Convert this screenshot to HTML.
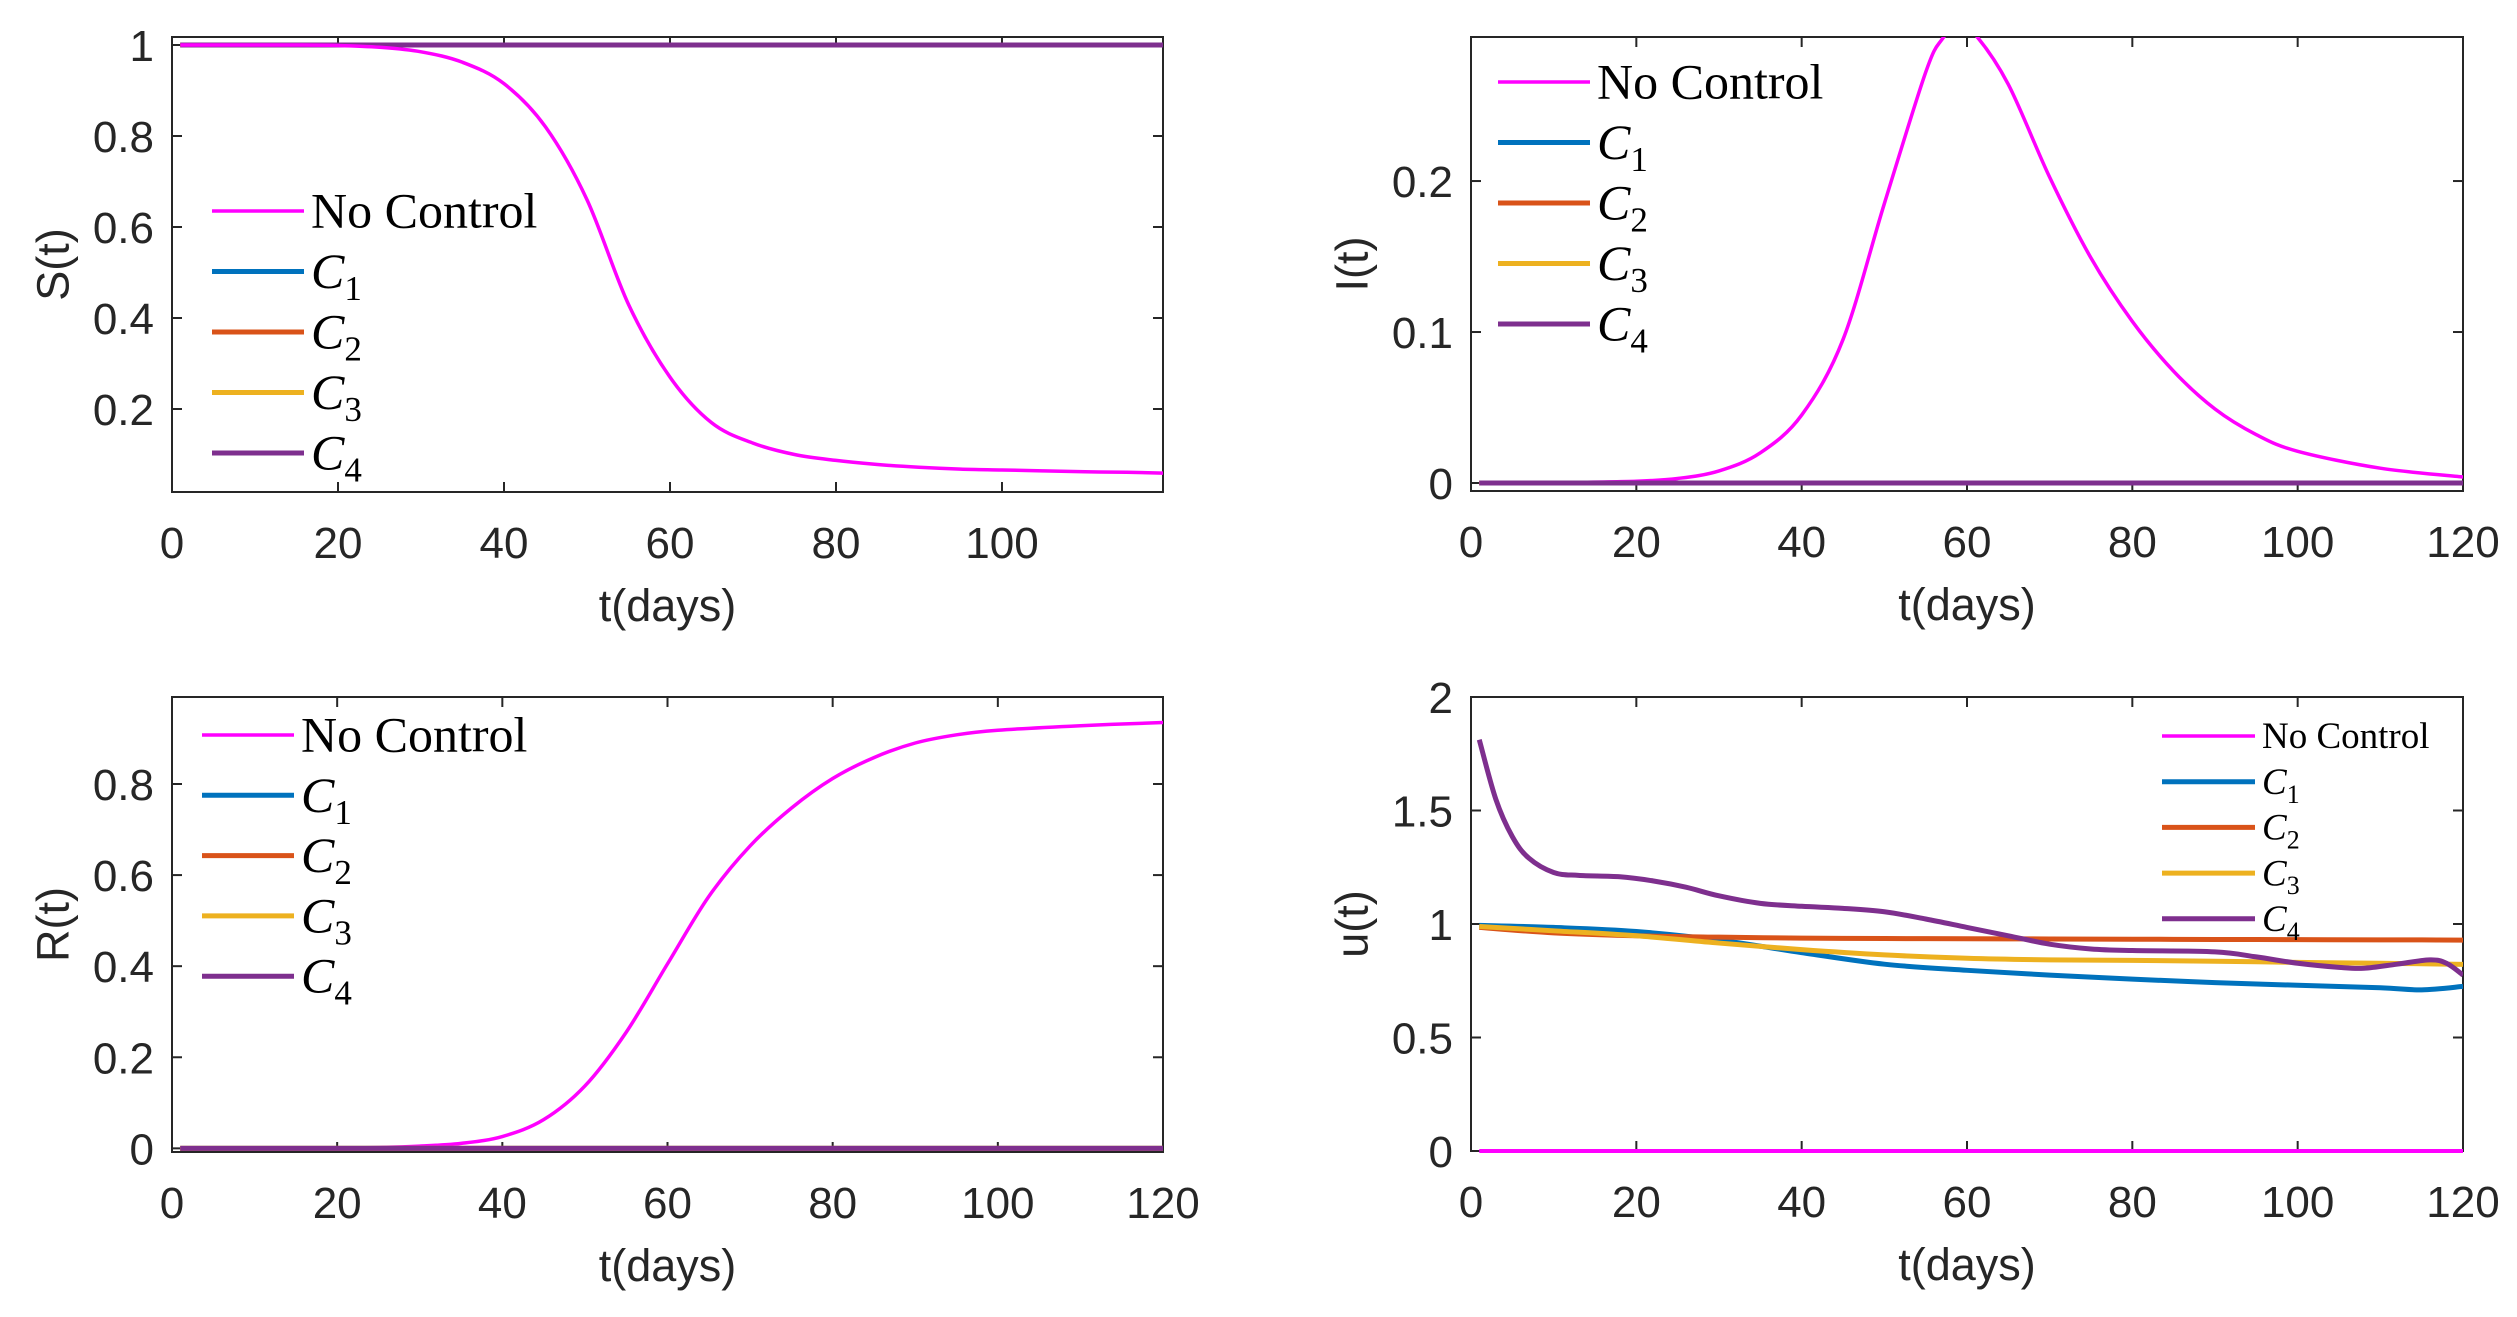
<!DOCTYPE html>
<html><head><meta charset="utf-8"><style>
html,body{margin:0;padding:0;background:#fff;}
svg{display:block;}
</style></head><body>
<svg id="fig" width="2517" height="1317" viewBox="0 0 2517 1317" xmlns="http://www.w3.org/2000/svg"></svg>
<script>
// ---- data ----
const tS = [1,5,10,15,20,25,30,35,40,45,50,55,60,65,70,75,80,85,90,95,100,105,110,115,119.4];
const sNoControl = [1,1,1,1,0.999,0.995,0.985,0.962,0.915,0.82,0.66,0.43,0.27,0.17,0.125,0.1,0.087,0.078,0.072,0.068,0.066,0.064,0.062,0.061,0.059];
const tI = [1,10,20,25,30,35,40,45,50,55,57,59,61,65,70,75,80,85,90,95,100,110,120];
const iNoControl = [0,0.0003,0.0012,0.003,0.008,0.02,0.045,0.095,0.185,0.272,0.294,0.303,0.297,0.264,0.2025,0.149,0.107,0.074,0.049,0.032,0.021,0.0098,0.004];
const tR = [1,10,20,25,30,35,40,45,50,55,60,65,70,75,80,85,90,95,100,110,120];
const rNoControl = [0,0,0.001,0.002,0.005,0.011,0.026,0.063,0.137,0.255,0.405,0.553,0.664,0.747,0.812,0.858,0.89,0.908,0.918,0.928,0.935];
const tU4 = [1,3,5,7,10,13,18,22,26,30,35,40,45,50,55,60,65,70,75,80,90,95,100,105,108,112,116,118,120];
const uC4 = [1.812,1.55,1.385,1.29,1.227,1.214,1.208,1.19,1.162,1.124,1.091,1.078,1.069,1.054,1.022,0.985,0.948,0.911,0.89,0.883,0.877,0.855,0.827,0.809,0.805,0.823,0.842,0.827,0.775];
const tU = [1,10,20,30,40,50,60,70,80,90,100,110,115,120];
const uC1 = [0.994,0.985,0.967,0.929,0.874,0.823,0.796,0.775,0.757,0.742,0.730,0.719,0.71,0.725];
const uC2 = [0.985,0.961,0.948,0.942,0.938,0.936,0.935,0.934,0.933,0.932,0.931,0.930,0.930,0.929];
const uC3 = [0.989,0.97,0.948,0.916,0.887,0.864,0.849,0.842,0.840,0.836,0.831,0.827,0.825,0.822];
const tFlat = [1,120];
const flatOne = [1,1];
const flatZero = [0,0];
const legendLabels = ["No Control","C1","C2","C3","C4"];
const colors = {nc:"#FF00FF",c1:"#0072BD",c2:"#D95319",c3:"#EDB120",c4:"#7E2F8E"};

const NS="http://www.w3.org/2000/svg";
const svg=document.getElementById('fig');
function mk(tag,attrs,parent){const e=document.createElementNS(NS,tag);for(const k in attrs)e.setAttribute(k,attrs[k]);(parent||svg).appendChild(e);return e;}

function smoothPath(xs,ys){
  let d="M"+xs[0].toFixed(2)+","+ys[0].toFixed(2);
  for(let i=0;i<xs.length-1;i++){
    const x0=xs[Math.max(i-1,0)],y0=ys[Math.max(i-1,0)];
    const x1=xs[i],y1=ys[i],x2=xs[i+1],y2=ys[i+1];
    const x3=xs[Math.min(i+2,xs.length-1)],y3=ys[Math.min(i+2,xs.length-1)];
    const c1x=x1+(x2-x0)/6,c1y=y1+(y2-y0)/6,c2x=x2-(x3-x1)/6,c2y=y2-(y3-y1)/6;
    d+=" C"+c1x.toFixed(2)+","+c1y.toFixed(2)+" "+c2x.toFixed(2)+","+c2y.toFixed(2)+" "+x2.toFixed(2)+","+y2.toFixed(2);
  }
  return d;
}

function panel(cfg){
  const g=mk('g',{});
  
  
  const {L,R,T,B,xmin,xmax,ymin,ymax}=cfg;
  const sx=v=>L+(v-xmin)/(xmax-xmin)*(R-L);
  const sy=v=>B-(v-ymin)/(ymax-ymin)*(B-T);
  const clipId='clip-'+cfg.name;
  const cp=mk('clipPath',{id:clipId},g);mk('rect',{x:L,y:T,width:R-L,height:B-T+2},cp);
  // box
  const box=mk('rect',{x:L,y:T,width:R-L,height:B-T,fill:'none',stroke:'#262626','stroke-width':2},g);
  
  
  // ticks
  const tk=10;
  cfg.xticks.forEach(v=>{
    const x=sx(v);
    mk('line',{x1:x,y1:B,x2:x,y2:B-tk,stroke:'#262626','stroke-width':2},g);
    mk('line',{x1:x,y1:T,x2:x,y2:T+tk,stroke:'#262626','stroke-width':2},g);
    const t=mk('text',{x:x,y:B+66,'text-anchor':'middle','font-family':'Liberation Sans, sans-serif','font-size':44,fill:'#262626'},g);
    t.textContent=String(v);
    
    
  });
  cfg.yticks.forEach(v=>{
    const y=sy(v);
    mk('line',{x1:L,y1:y,x2:L+tk,y2:y,stroke:'#262626','stroke-width':2},g);
    mk('line',{x1:R,y1:y,x2:R-tk,y2:y,stroke:'#262626','stroke-width':2},g);
    const t=mk('text',{x:L-18,y:y+16,'text-anchor':'end','font-family':'Liberation Sans, sans-serif','font-size':44,fill:'#262626'},g);
    t.textContent=String(v);
    
    
  });
  // series
  const sg=mk('g',{'clip-path':'url(#'+clipId+')'},g);
  cfg.series.forEach(s=>{
    const p=mk('path',{d:smoothPath(s.t.map(sx),s.v.map(sy)),fill:'none',stroke:s.c,'stroke-width':s.w,'stroke-linejoin':'round'},sg);
    
    
  });
  const xl=mk('text',{x:(L+R)/2,y:B+129,'text-anchor':'middle','font-family':'Liberation Sans, sans-serif','font-size':45,fill:'#262626'},g);
  xl.textContent='t(days)';
  
  
  const cy=(T+B)/2, cx=L-119;
  const yl=mk('text',{x:cx,y:cy,'text-anchor':'middle','dominant-baseline':'central',transform:'rotate(-90 '+cx+' '+cy+')','font-family':'Liberation Sans, sans-serif','font-size':45,fill:'#262626'},g);
  yl.textContent=cfg.ylabel;
  
  
  // legend
  const lg=mk('g',{},g);
  
  
  const lc=[colors.nc,colors.c1,colors.c2,colors.c3,colors.c4];
  legendLabels.forEach((lab,i)=>{
    const y=cfg.leg.y0+i*cfg.leg.dy;
    const e=mk('g',{},lg);
    
    
    mk('line',{x1:cfg.leg.x1,y1:y,x2:cfg.leg.x2,y2:y,stroke:lc[i],'stroke-width':i===0?3.5:5},e);
    const fs=cfg.leg.fs;
    const t=mk('text',{x:cfg.leg.x2+7,y:y+fs*0.33,'font-family':'Liberation Serif, serif','font-size':fs,fill:'#000'},e);
    if(i===0){t.textContent=lab;}
    else{
      const a=mk('tspan',{'font-style':'italic'},t);a.textContent='C';
      const b=mk('tspan',{'font-size':fs*0.7,dy:fs*0.24},t);b.textContent=lab.slice(1);
    }
  });
}

panel({name:'s-panel',L:172,R:1163,T:37,B:492,xmin:0,xmax:119.4,ymin:0.0176,ymax:1.0176,
  xticks:[0,20,40,60,80,100],yticks:[0.2,0.4,0.6,0.8,1],ylabel:'S(t)',
  leg:{x1:212,x2:304,y0:211,dy:60.5,fs:50},
  series:[{n:'s-c1',t:tFlat,v:flatOne,c:colors.c1,w:5},{n:'s-c2',t:tFlat,v:flatOne,c:colors.c2,w:5},{n:'s-c3',t:tFlat,v:flatOne,c:colors.c3,w:5},{n:'s-c4',t:tFlat,v:flatOne,c:colors.c4,w:5},
          {n:'s-no-control',t:tS,v:sNoControl,c:colors.nc,w:3.5}]});
panel({name:'i-panel',L:1471,R:2463,T:37,B:491,xmin:0,xmax:120,ymin:-0.0053,ymax:0.2954,
  xticks:[0,20,40,60,80,100,120],yticks:[0,0.1,0.2],ylabel:'I(t)',
  leg:{x1:1498,x2:1590,y0:82,dy:60.5,fs:50},
  series:[{n:'i-no-control',t:tI,v:iNoControl,c:colors.nc,w:3.5},
          {n:'i-c1',t:tFlat,v:flatZero,c:colors.c1,w:5},{n:'i-c2',t:tFlat,v:flatZero,c:colors.c2,w:5},{n:'i-c3',t:tFlat,v:flatZero,c:colors.c3,w:5},{n:'i-c4',t:tFlat,v:flatZero,c:colors.c4,w:5}]});
panel({name:'r-panel',L:172,R:1163,T:697,B:1152,xmin:0,xmax:120,ymin:-0.008,ymax:0.991,
  xticks:[0,20,40,60,80,100,120],yticks:[0,0.2,0.4,0.6,0.8],ylabel:'R(t)',
  leg:{x1:202,x2:294,y0:735,dy:60.3,fs:50},
  series:[{n:'r-no-control',t:tR,v:rNoControl,c:colors.nc,w:3.5},
          {n:'r-c1',t:tFlat,v:flatZero,c:colors.c1,w:5},{n:'r-c2',t:tFlat,v:flatZero,c:colors.c2,w:5},{n:'r-c3',t:tFlat,v:flatZero,c:colors.c3,w:5},{n:'r-c4',t:tFlat,v:flatZero,c:colors.c4,w:5}]});
panel({name:'u-panel',L:1471,R:2463,T:697,B:1151,xmin:0,xmax:120,ymin:0,ymax:2,
  xticks:[0,20,40,60,80,100,120],yticks:[0,0.5,1,1.5,2],ylabel:'u(t)',
  leg:{x1:2162,x2:2255,y0:736,dy:45.7,fs:37},
  series:[{n:'u-no-control',t:tFlat,v:flatZero,c:colors.nc,w:4},
          {n:'u-c1',t:tU,v:uC1,c:colors.c1,w:5},{n:'u-c2',t:tU,v:uC2,c:colors.c2,w:5},{n:'u-c3',t:tU,v:uC3,c:colors.c3,w:5},{n:'u-c4',t:tU4,v:uC4,c:colors.c4,w:5}]});
</script>
</body></html>
